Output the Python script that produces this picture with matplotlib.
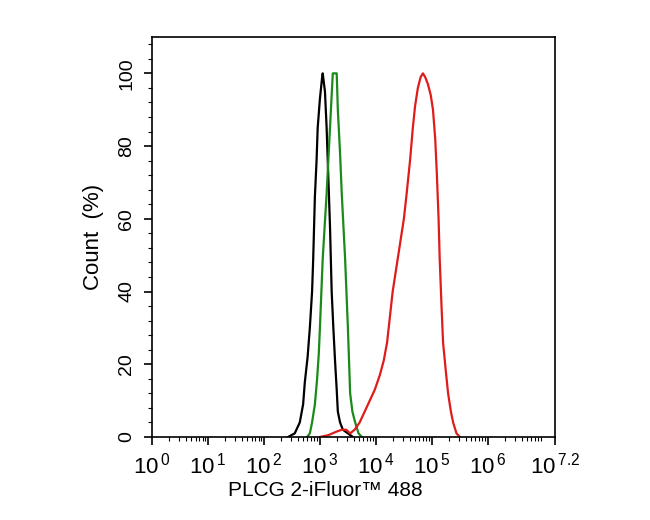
import numpy as np
import matplotlib
matplotlib.use("Agg")
import matplotlib.pyplot as plt
from matplotlib.ticker import FixedLocator, MultipleLocator, NullFormatter

plt.rcParams['font.family'] = ['Liberation Sans', 'DejaVu Sans']
plt.rcParams['mathtext.fontset'] = 'custom'
plt.rcParams['mathtext.rm'] = 'Liberation Sans'

# log10 fluorescence intensity and count (%)
black_logx = [2.43, 2.55, 2.64, 2.70, 2.73, 2.78, 2.82, 2.86, 2.88, 2.91, 2.94, 2.96, 3.00, 3.04, 3.05,
              3.09, 3.12, 3.14, 3.18, 3.21, 3.24, 3.27, 3.30, 3.32, 3.36, 3.41, 3.50, 3.59]
black_y = [0, 1, 4, 9, 15, 22, 30, 40, 49, 66, 76, 85, 93, 99, 100,
           95, 85, 76, 58, 40, 30, 21, 13, 7, 4, 2, 1, 0]

green_logx = [2.77, 2.82, 2.86, 2.91, 2.95, 2.98, 3.00, 3.05, 3.12, 3.18, 3.23, 3.30, 3.32, 3.36, 3.39,
              3.45, 3.50, 3.54, 3.58, 3.63, 3.69, 3.75]
green_y = [0, 1, 4, 9, 16, 23, 30, 49, 67, 85, 100, 100, 90, 78, 67,
           49, 30, 12, 7, 4, 1, 0]

red_logx = [3.00, 3.15, 3.30, 3.39, 3.47, 3.54, 3.62, 3.71, 3.80, 3.89, 3.98, 4.07, 4.14, 4.20, 4.25,
            4.30, 4.37, 4.43, 4.50, 4.55, 4.61, 4.66, 4.70, 4.75, 4.80, 4.84, 4.88, 4.93, 4.98,
            5.02, 5.06, 5.09, 5.12, 5.14, 5.17, 5.20, 5.25, 5.29, 5.34, 5.38, 5.44, 5.50]
red_y = [0, 0.5, 1.5, 2, 2, 1, 2, 4, 7, 10, 13, 17, 21, 26, 33,
         40, 47, 53, 60, 67, 76, 85, 91, 96, 99, 100, 99, 97, 94,
         90, 82, 72, 60, 49, 37, 26, 18, 12, 7, 4, 1, 0]

xtick_exps = [0, 1, 2, 3, 4, 5, 6, 7.2]
xtick_labels = ['0', '1', '2', '3', '4', '5', '6', '7.2']
ytick_values = [0, 20, 40, 60, 80, 100]

fig = plt.figure(figsize=(6.5, 5.2), dpi=100)
ax = fig.add_axes([152/650, 83/520, 403/650, 400/520])

ax.plot(10**np.array(black_logx), black_y, color='black', lw=1.6)
ax.plot(10**np.array(green_logx), green_y, color='#1a8a1a', lw=1.6)
ax.plot(10**np.array(red_logx), red_y, color='#e01b1b', lw=1.6)

ax.set_xscale('log')
ax.set_xlim(1, 10**7.2)
ax.set_ylim(0, 110)

ax.xaxis.set_major_locator(FixedLocator([10**e for e in xtick_exps]))
ax.set_xticklabels([r'$\mathregular{10^{\,%s}}$' % l for l in xtick_labels])
minor = []
for d in range(0, 8):
    for s in range(2, 10):
        v = s * 10**d
        if v < 10**7.2:
            minor.append(v)
ax.xaxis.set_minor_locator(FixedLocator(minor))
ax.xaxis.set_minor_formatter(NullFormatter())

ax.set_yticks(ytick_values)
ax.yaxis.set_minor_locator(MultipleLocator(4))

ax.tick_params(axis='x', which='major', direction='out', length=6, width=1.2, labelsize=16, pad=5)
ax.tick_params(axis='x', which='minor', direction='out', length=3, width=0.8)
ax.tick_params(axis='y', which='major', direction='out', length=6, width=1.2, labelsize=14,
               labelrotation=90, pad=6)
ax.tick_params(axis='y', which='minor', direction='out', length=3, width=0.8)
for lab in ax.get_yticklabels():
    lab.set_va('center')

for sp in ax.spines.values():
    sp.set_linewidth(1.2)

ax.set_xlabel('PLCG 2-iFluor™ 488', fontsize=15)
ax.xaxis.set_label_coords((325 - 152) / 403, (437 - 490) / 400)
ax.xaxis.label.set_va('center')
ax.set_ylabel('Count  (%)', fontsize=16)
ax.yaxis.set_label_coords((93 - 152) / 403, 0.5)
ax.yaxis.label.set_va('center')

fig.savefig('out.png', dpi=100)
